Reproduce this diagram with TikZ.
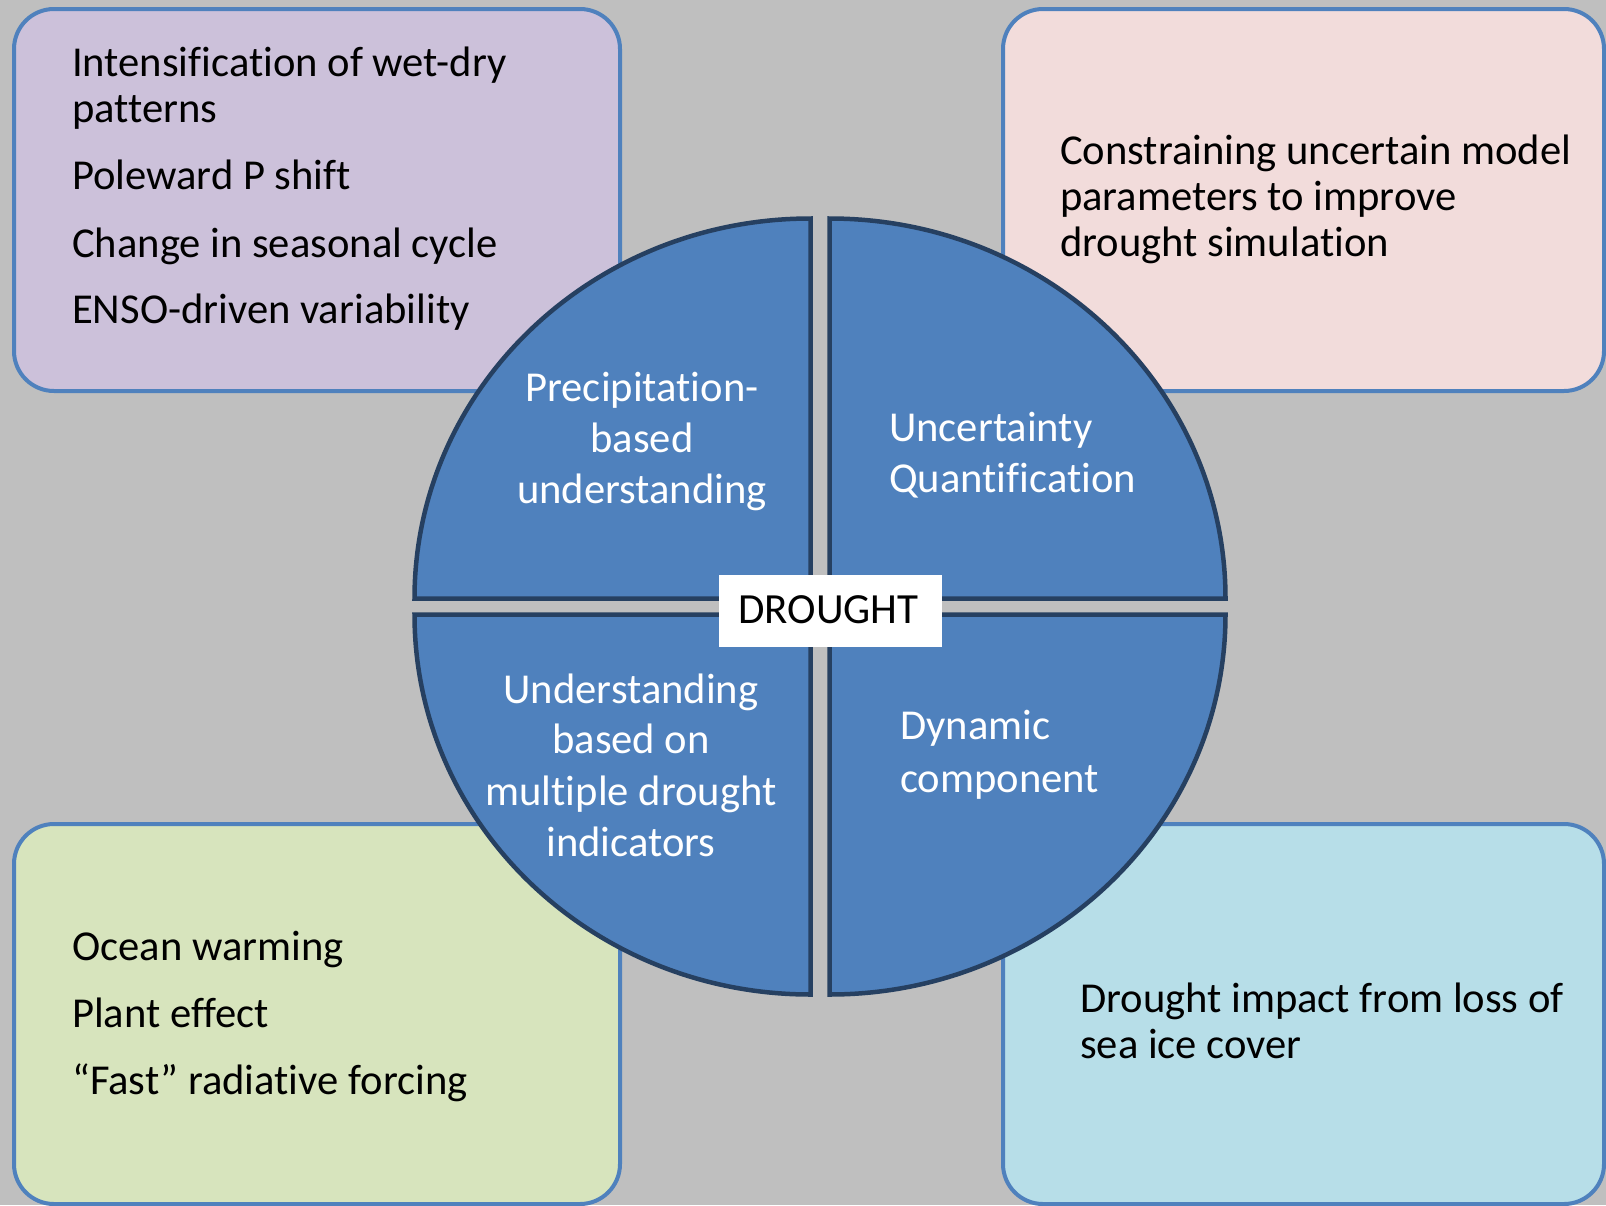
\documentclass[tikz,border=0pt]{standalone}
\usepackage{fontspec}
\setmainfont{Carlito}[Ligatures=NoCommon, RawFeature={-liga;-dlig;-clig}]
\definecolor{bg}{RGB}{191,191,191}
\definecolor{boxline}{RGB}{79,129,189}
\definecolor{qfill}{RGB}{79,129,189}
\definecolor{qline}{RGB}{38,64,97}
\definecolor{purplefill}{RGB}{204,193,218}
\definecolor{pinkfill}{RGB}{242,220,219}
\definecolor{greenfill}{RGB}{215,228,189}
\definecolor{bluefill}{RGB}{183,222,232}
\tikzset{
  infobox/.style={draw=boxline, line width=4pt, rounded corners=40pt},
  quarter/.style={draw=qline, fill=qfill, line width=4.5pt, line join=miter},
  btxt/.style={inner sep=0pt, anchor=base west, text=black, font=\fontsize{42.6}{46}\selectfont},
  qtxt/.style={inner sep=0pt, text=white, font=\fontsize{42.6}{51}\selectfont},
  qtxtc/.style={qtxt, anchor=base},
  qtxtl/.style={qtxt, anchor=base west},
}
\begin{document}
\begin{tikzpicture}[x=1pt,y=1pt]
\useasboundingbox (0,0) rectangle (1606,-1205);
\fill[bg] (0,0) rectangle (1606,-1205);

% corner boxes
\draw[infobox, fill=purplefill] (14,-9) rectangle (620,-391);
\draw[infobox, fill=pinkfill] (1003,-9) rectangle (1604,-391);
\draw[infobox, fill=greenfill] (14,-824) rectangle (620,-1204);
\draw[infobox, fill=bluefill] (1003,-824) rectangle (1604,-1204);

% box texts
\node[btxt] (a1) at (72,-76) {Intensification of wet-dry};
\node[btxt] (a2) at (72,-122) {patterns};
\node[btxt] (a3) at (72,-189) {Poleward P shift};
\node[btxt] (a4) at (72,-257) {Change in seasonal cycle};
\node[btxt] (a5) at (72,-323) {ENSO-driven variability};

\node[btxt] (b1) at (1060,-164) {Constraining uncertain model};
\node[btxt] (b2) at (1060,-210) {parameters to improve};
\node[btxt] (b3) at (1060,-256) {drought simulation};

\node[btxt] (c1) at (72,-960) {Ocean warming};
\node[btxt] (c2) at (72,-1027) {Plant effect};
\node[btxt] (c3) at (72,-1094) {“Fast” radiative forcing};

\node[btxt] (d1) at (1080,-1012) {Drought impact from loss of};
\node[btxt] (d2) at (1080,-1058) {sea ice cover};

% quadrants
\draw[quarter] (810.5,-598.5) -- ++(-396,0) arc[start angle=180, end angle=90, x radius=396, y radius=380] -- cycle;
\draw[quarter] (829.5,-598.5) -- ++(396,0) arc[start angle=0, end angle=90, x radius=396, y radius=380] -- cycle;
\draw[quarter] (810.5,-614.5) -- ++(-396,0) arc[start angle=180, end angle=270, x radius=396, y radius=380] -- cycle;
\draw[quarter] (829.5,-614.5) -- ++(396,0) arc[start angle=0, end angle=-90, x radius=396, y radius=380] -- cycle;

% quadrant texts
\node[qtxtc] (p1) at (642,-401) {Precipitation-};
\node[qtxtc] (p2) at (642,-452) {based};
\node[qtxtc] (p3) at (642,-503) {understanding};

\node[qtxtl] (u1) at (889,-441) {Uncertainty};
\node[qtxtl] (u2) at (889,-492) {Quantification};

\node[qtxtc] (m1) at (631,-703) {Understanding};
\node[qtxtc] (m2) at (631,-753) {based on};
\node[qtxtc] (m3) at (631,-805) {multiple drought};
\node[qtxtc] (m4) at (631,-856) {indicators};

\node[qtxtl] (y1) at (900,-739) {Dynamic};
\node[qtxtl] (y2) at (900,-792) {component};

% centre label
\fill[white] (719,-575) rectangle (942,-647);
\node[inner sep=0pt, anchor=base, font=\fontsize{43}{50}\selectfont] (drought) at (828.5,-623) {DROUGHT};
\end{tikzpicture}
\end{document}
